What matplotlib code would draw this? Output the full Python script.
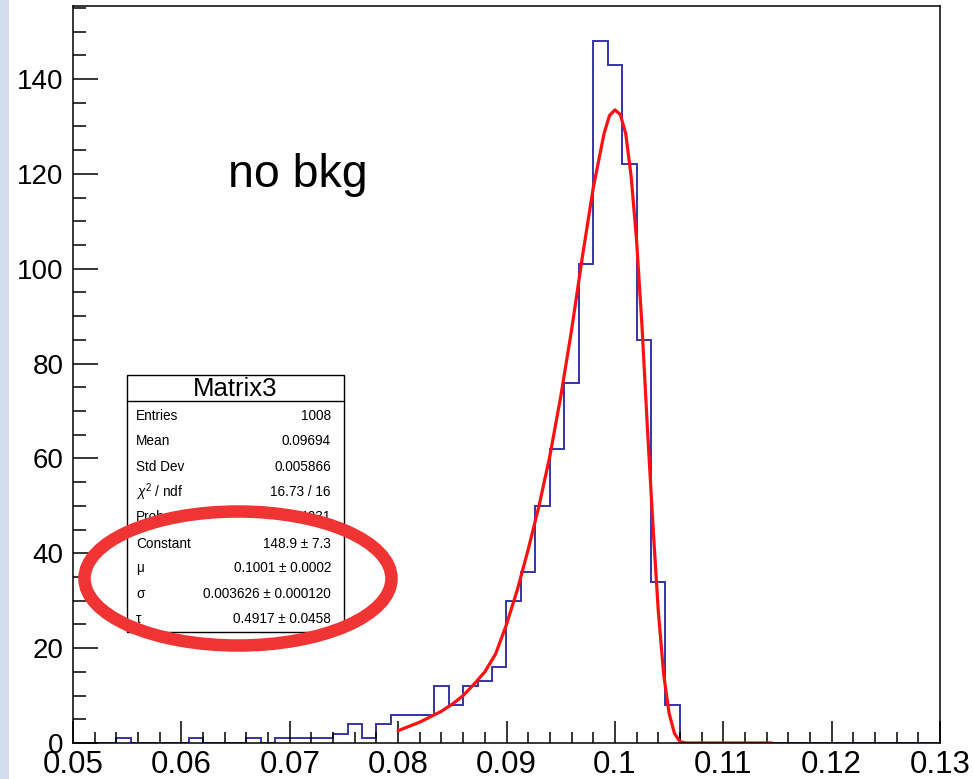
import numpy as np
import matplotlib
matplotlib.use('Agg')
import matplotlib.pyplot as plt
from matplotlib.patches import Rectangle, Ellipse
from matplotlib.ticker import MultipleLocator

plt.rcParams['font.family'] = ['Liberation Sans', 'DejaVu Sans']
plt.rcParams['mathtext.fontset'] = 'custom'
plt.rcParams['mathtext.rm'] = 'Liberation Sans'
plt.rcParams['mathtext.it'] = 'Liberation Sans:italic'

# histogram: 60 bins between 0.05 and 0.13
x_lo, x_hi, n_bins = 0.05, 0.13, 60
counts = [0, 0, 0, 1, 0, 0, 0, 0, 1, 0,
          0, 0, 1, 0, 1, 1, 1, 1, 2, 4,
          1, 4, 6, 6, 6, 12, 8, 12, 13, 16,
          30, 36, 50, 62, 76, 101, 148, 143, 122, 85,
          34, 8, 0, 0, 0, 0, 0, 0, 0, 0,
          0, 0, 0, 0, 0, 0, 0, 0, 0, 0]

# fit curve
fit_x = [0.0800, 0.0820, 0.0840, 0.0850, 0.0860, 0.0870, 0.0880, 0.0890,
         0.0900, 0.0910, 0.0920, 0.0930, 0.0940, 0.0950, 0.0960, 0.0970,
         0.0980, 0.0990, 0.0995, 0.1000, 0.1005, 0.1010, 0.1015, 0.1020,
         0.1025, 0.1030, 0.1035, 0.1040, 0.1045, 0.1050, 0.1055, 0.1060,
         0.1066, 0.1145]
fit_y = [2.6, 4.4, 6.7, 8.2, 10.0, 12.4, 15.0, 18.8,
         25.0, 32.3, 40.8, 50.0, 60.5, 73.0, 87.0, 102.5,
         117.0, 128.5, 132.3, 133.5, 132.5, 128.5, 119.5, 106.0,
         88.0, 66.5, 46.4, 28.0, 14.5, 6.3, 2.0, 0.3,
         0.0, 0.0]

stat_labels = ['Entries', 'Mean', 'Std Dev', r'$\chi^{2}$ / ndf', 'Prob',
               'Constant', 'μ', 'σ', 'τ']
stat_values = ['1008', '0.09694', '0.005866', '16.73 / 16', '0.4031',
               '148.9 ± 7.3', '0.1001 ± 0.0002', '0.003626 ± 0.000120',
               '0.4917 ± 0.0458']

W, H = 973, 779
fig = plt.figure(figsize=(W / 100, H / 100), dpi=100)

def fx(px):
    return px / W

def fy(py):
    return 1 - py / H

# slide background strip on the left
fig.patches.append(Rectangle((0, 0), fx(9), 1, transform=fig.transFigure,
                             facecolor='#d3dcea', edgecolor='none', zorder=0))

ax = fig.add_axes([fx(73), fy(743), fx(940) - fx(73), fy(6) - fy(743)])
edges = np.linspace(x_lo, x_hi, n_bins + 1)
ax.stairs(counts, edges, color='#3434a8', linewidth=1.4, baseline=0)
ax.plot(fit_x, fit_y, color='#ff1010', linewidth=2.3,
        solid_capstyle='round', solid_joinstyle='round')

ax.set_xlim(x_lo, x_hi)
ax.set_ylim(0, 155.4)
ax.xaxis.set_minor_locator(MultipleLocator(0.002))
ax.yaxis.set_major_locator(MultipleLocator(20))
ax.yaxis.set_minor_locator(MultipleLocator(5))
ax.set_xticks(np.arange(0.05, 0.1301, 0.01))
ax.set_xticklabels(['0.05', '0.06', '0.07', '0.08', '0.09', '0.1', '0.11', '0.12', '0.13'])
ax.tick_params(axis='x', which='major', direction='in', length=16, width=1.1,
               labelsize=22.5, pad=5)
ax.tick_params(axis='x', which='minor', direction='in', length=8, width=1.1)
ax.tick_params(axis='y', which='major', direction='in', length=18, width=1.1,
               labelsize=20, pad=7)
ax.tick_params(axis='y', which='minor', direction='in', length=9, width=1.1)
for s in ax.spines.values():
    s.set_linewidth(1.1)

ax.text(fx(228), fy(175), 'no bkg', transform=fig.transFigure, fontsize=33.5,
        ha='left', va='center')

# stats box
bl, br, bt, bb = 127, 344, 375, 632
fig.patches.append(Rectangle((fx(bl), fy(bb)), fx(br) - fx(bl), fy(bt) - fy(bb),
                             transform=fig.transFigure, facecolor='white',
                             edgecolor='black', linewidth=1.0, zorder=5))
fig.lines.append(plt.Line2D([fx(bl), fx(br)], [fy(401), fy(401)],
                            transform=fig.transFigure, color='black',
                            linewidth=1.0, zorder=6))
fig.text(fx((bl + br) / 2), fy(389.5), 'Matrix3', fontsize=18.5, ha='center',
         va='center', zorder=7)
row_y = [416, 441, 467, 492, 517, 544, 568, 594, 619]
for lab, val, ry in zip(stat_labels, stat_values, row_y):
    fig.text(fx(136), fy(ry), lab, fontsize=9.8, ha='left', va='center', zorder=7)
    fig.text(fx(331), fy(ry), val, fontsize=9.8, ha='right', va='center', zorder=7)

# red annotation ring
fig.patches.append(Ellipse((fx(238), fy(578.5)), fx(307), 134 / H,
                           transform=fig.transFigure, facecolor='none',
                           edgecolor='#f03434', linewidth=9, zorder=10))

fig.savefig('out.png', dpi=100)
